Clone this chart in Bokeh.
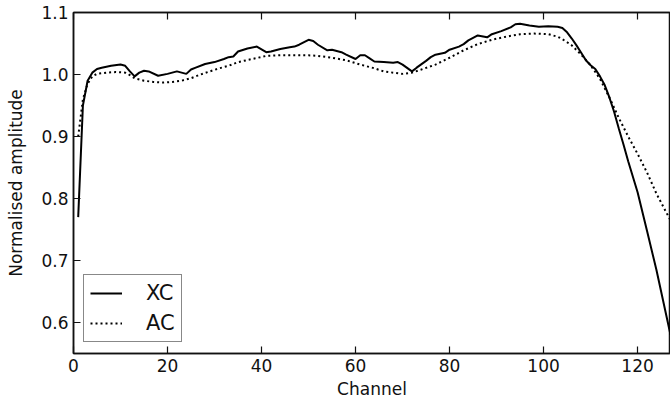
from bokeh.plotting import figure
from bokeh.models import LinearAxis, Range1d, FixedTicker, Legend, LegendItem, NumeralTickFormatter
from bokeh.embed import file_html
from bokeh.resources import INLINE

# ---- data ----
xc_channel = [1, 2, 3, 4, 5, 6, 8, 10, 11, 12, 13, 14, 15, 16, 18, 20, 22, 23, 24, 25,
              26, 28, 30, 32, 33, 34, 35, 37, 39, 41, 42, 44, 46, 47, 48, 50, 51, 52, 54, 55,
              57, 58, 60, 61, 62, 63, 64, 66, 68, 69, 70, 72, 73, 75, 76, 77, 79, 80, 82, 83,
              84, 86, 88, 89, 91, 93, 94, 95, 97, 99, 101, 103, 104, 105, 106, 107, 108, 109, 110, 111,
              112, 113, 114, 115, 116, 117, 118, 120, 122, 124, 127]
xc_amp = [0.77, 0.95, 0.99, 1.003, 1.009, 1.011, 1.014, 1.016, 1.014, 1.005, 0.997, 1.003, 1.006, 1.005, 0.998, 1.001, 1.005, 1.003, 1.001, 1.008,
          1.011, 1.017, 1.020, 1.025, 1.028, 1.029, 1.037, 1.042, 1.045, 1.036, 1.037, 1.041, 1.044, 1.045, 1.048, 1.056, 1.054, 1.048, 1.039, 1.040,
          1.036, 1.032, 1.025, 1.031, 1.031, 1.026, 1.021, 1.020, 1.019, 1.020, 1.016, 1.005, 1.011, 1.022, 1.028, 1.032, 1.035, 1.040, 1.045, 1.049,
          1.055, 1.063, 1.060, 1.065, 1.070, 1.076, 1.081, 1.082, 1.079, 1.077, 1.078, 1.077, 1.075, 1.068, 1.058, 1.047, 1.035, 1.023, 1.015, 1.009,
          0.997, 0.983, 0.963, 0.940, 0.913, 0.887, 0.860, 0.810, 0.748, 0.685, 0.580]

ac_channel = [1, 2, 3, 4, 5, 7, 9, 11, 12, 13, 15, 17, 19, 21, 23, 25, 27, 29, 31, 33,
              35, 38, 41, 44, 47, 50, 52, 55, 58, 61, 64, 66, 68, 70, 72, 74, 77, 80, 83, 86,
              89, 92, 95, 98, 101, 103, 104, 106, 108, 110, 112, 114, 116, 118, 120, 122, 124, 126, 127]
ac_amp = [0.90, 0.96, 0.985, 0.997, 1.001, 1.003, 1.004, 1.003, 0.999, 0.994, 0.990, 0.988, 0.987, 0.988, 0.990, 0.994, 1.000, 1.005, 1.010, 1.014,
          1.020, 1.025, 1.030, 1.031, 1.031, 1.031, 1.030, 1.027, 1.023, 1.016, 1.010, 1.005, 1.003, 1.001, 1.003, 1.008, 1.016, 1.027, 1.039, 1.049,
          1.056, 1.061, 1.065, 1.066, 1.065, 1.061, 1.057, 1.047, 1.032, 1.015, 0.993, 0.963, 0.930, 0.900, 0.872, 0.842, 0.808, 0.779, 0.765]

x_ticks = [0, 20, 40, 60, 80, 100, 120]
y_ticks = [0.6, 0.7, 0.8, 0.9, 1.0, 1.1]
series_names = ["XC", "AC"]

FONT = "DejaVu Sans"
INK = "#111111"

p = figure(width=670, height=403, output_backend="svg", toolbar_location=None,
           x_range=Range1d(0, 127), y_range=Range1d(0.55, 1.1),
           min_border_left=73, min_border_right=0, min_border_top=12, min_border_bottom=50,
           x_axis_location=None, y_axis_location=None)
p.outline_line_color = INK
p.outline_line_width = 1.5
p.xgrid.visible = False
p.ygrid.visible = False
p.background_fill_color = "white"
p.border_fill_color = "white"


def style_axis(ax):
    ax.axis_line_color = INK
    ax.axis_line_width = 1.5
    ax.major_tick_line_color = INK
    ax.major_tick_line_width = 1.2
    ax.major_tick_in = 7
    ax.major_tick_out = 0
    ax.minor_tick_line_color = None
    ax.major_label_text_font = FONT
    ax.major_label_text_color = INK
    ax.major_label_text_font_size = "17px"
    ax.major_label_standoff = 5
    ax.axis_label_text_font = FONT
    ax.axis_label_text_color = INK
    ax.axis_label_text_font_size = "17px"
    ax.axis_label_text_font_style = "normal"


bottom = LinearAxis(ticker=FixedTicker(ticks=x_ticks), axis_label="Channel")
style_axis(bottom)
bottom.axis_label_standoff = 4
p.add_layout(bottom, "below")

left = LinearAxis(ticker=FixedTicker(ticks=y_ticks), axis_label="Normalised amplitude",
                  formatter=NumeralTickFormatter(format="0.0"))
style_axis(left)
left.axis_label_standoff = 12
p.add_layout(left, "left")

# top spine ticks (no labels)
top = LinearAxis(ticker=FixedTicker(ticks=x_ticks),
                 major_label_overrides={t: "" for t in x_ticks})
style_axis(top)
top.major_label_standoff = 0
top.major_label_text_font_size = "1px"
p.add_layout(top, "above")

r_xc = p.line(xc_channel, xc_amp, line_color="black", line_width=2)
r_ac = p.line(ac_channel, ac_amp, line_color="black", line_width=2, line_dash="2 3")

legend = Legend(items=[LegendItem(label=series_names[0], renderers=[r_xc]),
                       LegendItem(label=series_names[1], renderers=[r_ac])],
                location=(10, 11))
legend.margin = 0
legend.padding = 6
legend.spacing = 6
legend.glyph_width = 32
legend.glyph_height = 20
legend.label_height = 20
legend.label_standoff = 24
legend.label_text_font = FONT
legend.label_text_font_size = "21px"
legend.label_text_color = INK
legend.border_line_color = INK
legend.border_line_width = 1.5
legend.background_fill_color = "white"
legend.background_fill_alpha = 1.0
p.add_layout(legend, "center")

open("out.html", "w").write(file_html(p, INLINE))
